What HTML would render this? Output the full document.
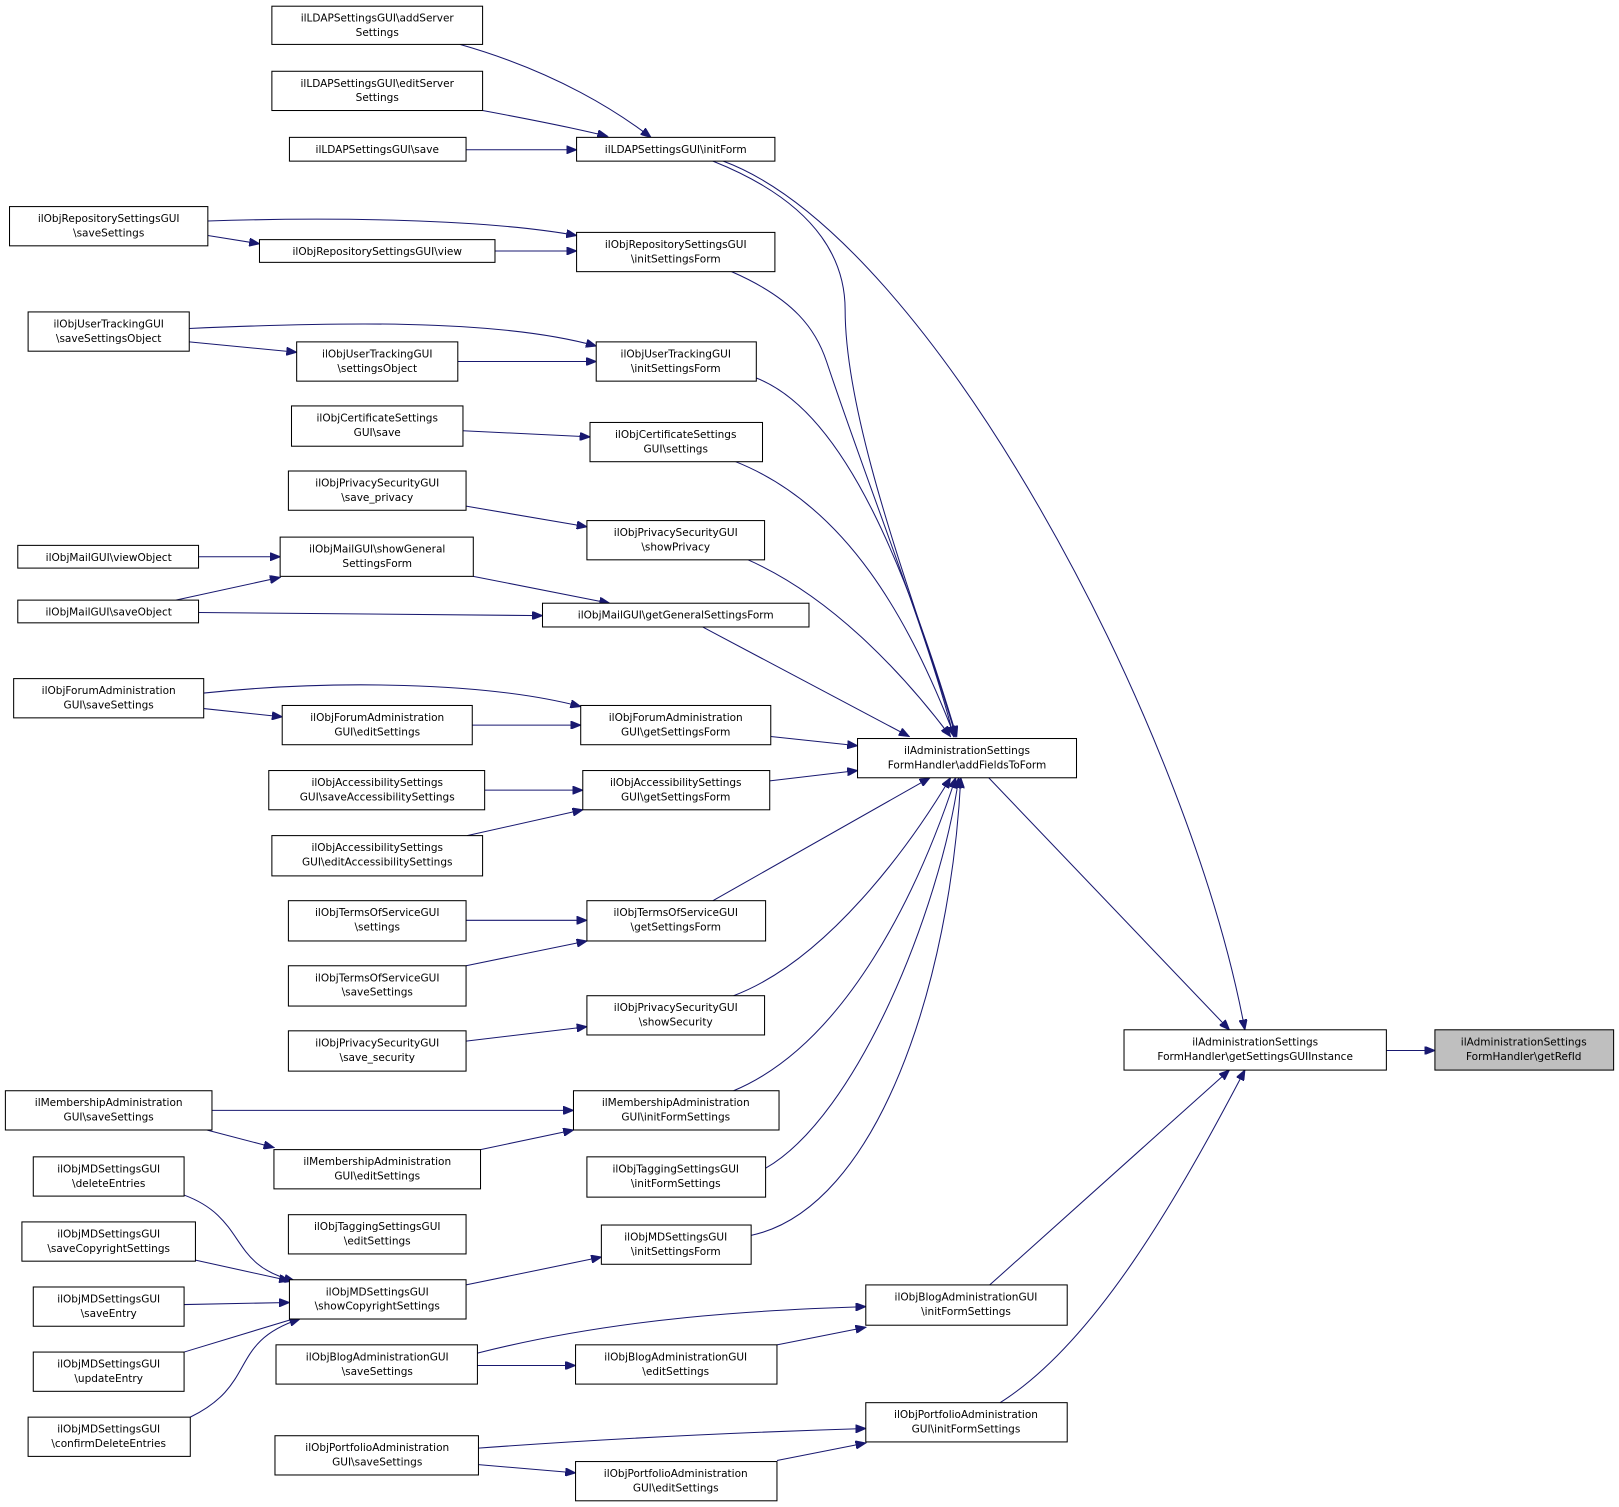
<!DOCTYPE html>
<html><head><meta charset="utf-8"><style>
html,body{margin:0;padding:0;background:#fff;}
svg{display:block}
text{font-family:"DejaVu Sans","Liberation Sans",sans-serif;font-size:10.2px;fill:#000;text-anchor:middle}
rect{fill:#fff;stroke:#000;stroke-width:1}
path{fill:none;stroke:#191970;stroke-width:1}
</style></head><body>
<svg width="1619" height="1507" viewBox="0 0 1567 1459" xmlns="http://www.w3.org/2000/svg">
<defs><marker id="a" markerUnits="userSpaceOnUse" markerWidth="11" markerHeight="8" refX="10" refY="4" orient="auto"><polygon points="0,0 10,4 0,8" fill="#191970" stroke="#191970"/></marker></defs>
<g marker-end="url(#a)">
<path d="M445,43 C540,70 600,110 630,133"/>
<path d="M467,107 C510,115 560,125 588,132"/>
<path d="M451,145 L558,145"/>
<path d="M690,156 C800,200 818,260 818,300 C818,420 900,620 925,713"/>
<path d="M700,156 C900,230 1150,700 1205,997"/>
<path d="M201,214 C320,210 470,212 558,228"/>
<path d="M201,228 L251,236"/>
<path d="M479,243 L558,243"/>
<path d="M708,263 C770,290 790,320 800,350 C840,470 900,620 923,713"/>
<path d="M183,318 C320,312 480,308 577,335"/>
<path d="M183,331 L287,341"/>
<path d="M443,350 L577,350"/>
<path d="M732,366 C820,400 880,560 926,713"/>
<path d="M448,417 L571,423"/>
<path d="M712,447 C820,490 880,600 924,713"/>
<path d="M451,490 L568,510"/>
<path d="M724,542 C810,580 880,660 920,713"/>
<path d="M192,539 L271,539"/>
<path d="M170,581 L271,559"/>
<path d="M458,558 L590,584"/>
<path d="M192,593 L525,596"/>
<path d="M680,607 L880,713"/>
<path d="M197,671 C320,658 470,660 562,684"/>
<path d="M197,686 L273,694"/>
<path d="M457,702 L562,702"/>
<path d="M746,713 L830,722"/>
<path d="M469,765 L564,765"/>
<path d="M452,809 L564,784"/>
<path d="M745,756 L830,746"/>
<path d="M451,891 L568,891"/>
<path d="M451,935 L568,911"/>
<path d="M690,872 L900,753"/>
<path d="M451,1008 L568,994"/>
<path d="M710,964 C800,930 880,820 920,753"/>
<path d="M205,1075 L555,1075"/>
<path d="M200,1094 L265,1111"/>
<path d="M465,1113 L555,1094"/>
<path d="M710,1056 C820,1010 890,860 925,753"/>
<path d="M741,1131 C830,1080 910,880 928,753"/>
<path d="M727,1196 C850,1170 920,950 930,753"/>
<path d="M451,1244 L582,1217"/>
<path d="M178,1157 C240,1180 220,1225 285,1240"/>
<path d="M189,1220 L280,1240"/>
<path d="M178,1263 L280,1261"/>
<path d="M178,1309 L290,1275"/>
<path d="M184,1372 C250,1340 220,1300 290,1277"/>
<path d="M462,1310 C600,1275 740,1268 838,1265"/>
<path d="M462,1322 L557,1322"/>
<path d="M752,1302 L838,1285"/>
<path d="M958,1244 L1190,1036"/>
<path d="M463,1402 C600,1392 740,1386 838,1383"/>
<path d="M463,1418 L557,1426"/>
<path d="M752,1414 L838,1397"/>
<path d="M968,1358 C1060,1300 1140,1160 1205,1036"/>
<path d="M957,753 L1190,997"/>
<path d="M1342,1017 L1389,1017"/>
</g>
<g>
<rect x="263" y="6" width="204" height="37"/><text x="365" y="21">ilLDAPSettingsGUI\addServer</text><text x="365" y="35">Settings</text>
<rect x="263" y="69" width="204" height="38"/><text x="365" y="84">ilLDAPSettingsGUI\editServer</text><text x="365" y="98">Settings</text>
<rect x="280" y="133" width="171" height="23"/><text x="365" y="148">ilLDAPSettingsGUI\save</text>
<rect x="558" y="133" width="192" height="23"/><text x="654" y="148">ilLDAPSettingsGUI\initForm</text>
<rect x="9" y="200" width="192" height="38"/><text x="105" y="215">ilObjRepositorySettingsGUI</text><text x="105" y="229">\saveSettings</text>
<rect x="251" y="232" width="228" height="22"/><text x="365" y="247">ilObjRepositorySettingsGUI\view</text>
<rect x="558" y="225" width="192" height="38"/><text x="654" y="240">ilObjRepositorySettingsGUI</text><text x="654" y="254">\initSettingsForm</text>
<rect x="27" y="302" width="156" height="38"/><text x="105" y="317">ilObjUserTrackingGUI</text><text x="105" y="331">\saveSettingsObject</text>
<rect x="287" y="331" width="156" height="38"/><text x="365" y="346">ilObjUserTrackingGUI</text><text x="365" y="360">\settingsObject</text>
<rect x="577" y="331" width="155" height="38"/><text x="654" y="346">ilObjUserTrackingGUI</text><text x="654" y="360">\initSettingsForm</text>
<rect x="282" y="393" width="166" height="39"/><text x="365" y="408">ilObjCertificateSettings</text><text x="365" y="422">GUI\save</text>
<rect x="571" y="409" width="167" height="38"/><text x="654" y="424">ilObjCertificateSettings</text><text x="654" y="438">GUI\settings</text>
<rect x="279" y="456" width="172" height="38"/><text x="365" y="471">ilObjPrivacySecurityGUI</text><text x="365" y="485">\save_privacy</text>
<rect x="568" y="504" width="172" height="38"/><text x="654" y="519">ilObjPrivacySecurityGUI</text><text x="654" y="533">\showPrivacy</text>
<rect x="17" y="528" width="175" height="22"/><text x="105" y="543">ilObjMailGUI\viewObject</text>
<rect x="271" y="520" width="187" height="38"/><text x="365" y="535">ilObjMailGUI\showGeneral</text><text x="365" y="549">SettingsForm</text>
<rect x="17" y="581" width="175" height="22"/><text x="105" y="596">ilObjMailGUI\saveObject</text>
<rect x="525" y="584" width="258" height="23"/><text x="654" y="599">ilObjMailGUI\getGeneralSettingsForm</text>
<rect x="13" y="657" width="184" height="38"/><text x="105" y="672">ilObjForumAdministration</text><text x="105" y="686">GUI\saveSettings</text>
<rect x="273" y="683" width="184" height="38"/><text x="365" y="698">ilObjForumAdministration</text><text x="365" y="712">GUI\editSettings</text>
<rect x="562" y="683" width="184" height="38"/><text x="654" y="698">ilObjForumAdministration</text><text x="654" y="712">GUI\getSettingsForm</text>
<rect x="830" y="715" width="212" height="38"/><text x="936" y="730">ilAdministrationSettings</text><text x="936" y="744">FormHandler\addFieldsToForm</text>
<rect x="260" y="746" width="209" height="38"/><text x="365" y="761">ilObjAccessibilitySettings</text><text x="365" y="775">GUI\saveAccessibilitySettings</text>
<rect x="564" y="746" width="181" height="38"/><text x="654" y="761">ilObjAccessibilitySettings</text><text x="654" y="775">GUI\getSettingsForm</text>
<rect x="263" y="809" width="204" height="39"/><text x="365" y="824">ilObjAccessibilitySettings</text><text x="365" y="838">GUI\editAccessibilitySettings</text>
<rect x="279" y="872" width="172" height="39"/><text x="365" y="887">ilObjTermsOfServiceGUI</text><text x="365" y="901">\settings</text>
<rect x="568" y="872" width="173" height="39"/><text x="654" y="887">ilObjTermsOfServiceGUI</text><text x="654" y="901">\getSettingsForm</text>
<rect x="279" y="935" width="172" height="39"/><text x="365" y="950">ilObjTermsOfServiceGUI</text><text x="365" y="964">\saveSettings</text>
<rect x="568" y="964" width="172" height="38"/><text x="654" y="979">ilObjPrivacySecurityGUI</text><text x="654" y="993">\showSecurity</text>
<rect x="279" y="998" width="172" height="39"/><text x="365" y="1013">ilObjPrivacySecurityGUI</text><text x="365" y="1027">\save_security</text>
<rect x="1088" y="997" width="254" height="39"/><text x="1215" y="1012">ilAdministrationSettings</text><text x="1215" y="1026">FormHandler\getSettingsGUIInstance</text>
<rect x="1389" y="997" width="173" height="39" style="fill:#bfbfbf"/><text x="1475" y="1012">ilAdministrationSettings</text><text x="1475" y="1026">FormHandler\getRefId</text>
<rect x="5" y="1056" width="200" height="38"/><text x="105" y="1071">ilMembershipAdministration</text><text x="105" y="1085">GUI\saveSettings</text>
<rect x="555" y="1056" width="199" height="38"/><text x="654" y="1071">ilMembershipAdministration</text><text x="654" y="1085">GUI\initFormSettings</text>
<rect x="265" y="1113" width="200" height="38"/><text x="365" y="1128">ilMembershipAdministration</text><text x="365" y="1142">GUI\editSettings</text>
<rect x="32" y="1120" width="146" height="38"/><text x="105" y="1135">ilObjMDSettingsGUI</text><text x="105" y="1149">\deleteEntries</text>
<rect x="568" y="1120" width="173" height="39"/><text x="654" y="1135">ilObjTaggingSettingsGUI</text><text x="654" y="1149">\initFormSettings</text>
<rect x="279" y="1176" width="172" height="38"/><text x="365" y="1191">ilObjTaggingSettingsGUI</text><text x="365" y="1205">\editSettings</text>
<rect x="21" y="1183" width="168" height="38"/><text x="105" y="1198">ilObjMDSettingsGUI</text><text x="105" y="1212">\saveCopyrightSettings</text>
<rect x="582" y="1186" width="145" height="38"/><text x="654" y="1201">ilObjMDSettingsGUI</text><text x="654" y="1215">\initSettingsForm</text>
<rect x="280" y="1239" width="171" height="38"/><text x="365" y="1254">ilObjMDSettingsGUI</text><text x="365" y="1268">\showCopyrightSettings</text>
<rect x="838" y="1244" width="195" height="39"/><text x="935" y="1259">ilObjBlogAdministrationGUI</text><text x="935" y="1273">\initFormSettings</text>
<rect x="32" y="1246" width="146" height="38"/><text x="105" y="1261">ilObjMDSettingsGUI</text><text x="105" y="1275">\saveEntry</text>
<rect x="267" y="1302" width="195" height="38"/><text x="365" y="1317">ilObjBlogAdministrationGUI</text><text x="365" y="1331">\saveSettings</text>
<rect x="557" y="1302" width="195" height="38"/><text x="654" y="1317">ilObjBlogAdministrationGUI</text><text x="654" y="1331">\editSettings</text>
<rect x="32" y="1309" width="146" height="38"/><text x="105" y="1324">ilObjMDSettingsGUI</text><text x="105" y="1338">\updateEntry</text>
<rect x="838" y="1358" width="195" height="38"/><text x="935" y="1373">ilObjPortfolioAdministration</text><text x="935" y="1387">GUI\initFormSettings</text>
<rect x="27" y="1372" width="157" height="38"/><text x="105" y="1387">ilObjMDSettingsGUI</text><text x="105" y="1401">\confirmDeleteEntries</text>
<rect x="266" y="1390" width="197" height="38"/><text x="365" y="1405">ilObjPortfolioAdministration</text><text x="365" y="1419">GUI\saveSettings</text>
<rect x="557" y="1415" width="195" height="38"/><text x="654" y="1430">ilObjPortfolioAdministration</text><text x="654" y="1444">GUI\editSettings</text>
</g>
</svg>
</body></html>
